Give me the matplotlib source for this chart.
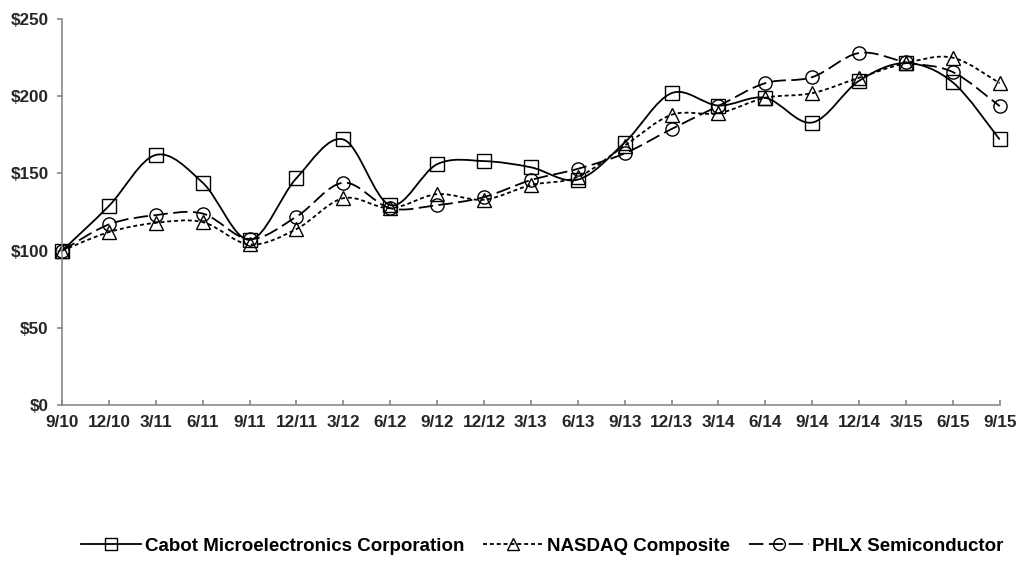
import matplotlib.pyplot as plt
from matplotlib.path import Path
from matplotlib.patches import PathPatch
from matplotlib.lines import Line2D

plt.rcParams['font.family'] = ['Liberation Sans', 'DejaVu Sans']
plt.rcParams['font.weight'] = 'bold'

# quarter labels
quarters = ['9/10', '12/10', '3/11', '6/11', '9/11', '12/11', '3/12', '6/12', '9/12', '12/12',
            '3/13', '6/13', '9/13', '12/13', '3/14', '6/14', '9/14', '12/14', '3/15', '6/15', '9/15']

# cumulative total return values
cabot = [100, 129, 162, 144, 107, 147, 172, 129.5, 156, 158, 154, 146, 170, 202, 194, 199, 183, 210, 221.5, 209, 172]
nasdaq = [100, 112, 118, 118.5, 104, 114, 134, 127.5, 136.6, 133, 142.5, 147.7, 168, 188, 189, 199, 202, 212, 221.5, 225, 208.5]
phlx = [100, 117, 123, 124, 107.5, 122, 144, 127.5, 129.5, 134.7, 145.7, 153, 163, 178.8, 193.7, 208.5, 212.4, 228, 222, 215.7, 193.6]

yticks = [0, 50, 100, 150, 200, 250]


def smooth_path(xs, ys):
    # bezier segments through the points, like a spreadsheet "smoothed line"
    pts = list(zip(xs, ys))
    n = len(pts)
    verts = [pts[0]]
    codes = [Path.MOVETO]
    for i in range(n - 1):
        p0 = pts[i - 1] if i > 0 else pts[i]
        p1 = pts[i]
        p2 = pts[i + 1]
        p3 = pts[i + 2] if i + 2 < n else pts[i + 1]
        c1 = (p1[0] + (p2[0] - p0[0]) / 6, p1[1] + (p2[1] - p0[1]) / 6)
        c2 = (p2[0] - (p3[0] - p1[0]) / 6, p2[1] - (p3[1] - p1[1]) / 6)
        verts += [c1, c2, p2]
        codes += [Path.CURVE4] * 3
    return Path(verts, codes)


fig = plt.figure(figsize=(10.18, 5.61), dpi=100)
ax = fig.add_axes([0.061, 0.278, 0.921, 0.688])

x = list(range(len(quarters)))
series = [
    (cabot, 's', '-', 'Cabot Microelectronics Corporation'),
    (nasdaq, '^', (0, (2.2, 1.6)), 'NASDAQ Composite'),
    (phlx, 'o', (0, (8, 3)), 'PHLX Semiconductor'),
]
handles = []
for vals, mk, ls, name in series:
    ax.add_patch(PathPatch(smooth_path(x, vals), facecolor='none', edgecolor='black',
                           lw=1.3, linestyle=ls, clip_on=False))
    ax.plot(x, vals, linestyle='none', marker=mk, markersize=9.5, markerfacecolor='none',
            markeredgecolor='black', markeredgewidth=1.0, clip_on=False)
    handles.append(Line2D([], [], color='black', lw=1.3, linestyle=ls, marker=mk,
                          markersize=8.5, markerfacecolor='none', markeredgewidth=1.0, label=name))

ax.set_xlim(0, len(quarters) - 1)
ax.set_ylim(0, 250)
ax.set_xticks(x)
ax.set_xticklabels(quarters)
ax.set_yticks(yticks)
ax.set_yticklabels(['$%d' % v for v in yticks])
ax.tick_params(axis='both', colors='#808080', labelcolor='#262626', labelsize=12.3, width=1.1)
ax.tick_params(axis='x', direction='in', length=3.5, pad=7)
ax.tick_params(axis='y', direction='out', length=3.6, pad=6)
for s in ['top', 'right']:
    ax.spines[s].set_visible(False)
for s in ['left', 'bottom']:
    ax.spines[s].set_color('#808080')
    ax.spines[s].set_linewidth(1.1)
for lab in ax.get_xticklabels() + ax.get_yticklabels():
    lab.set_fontweight('bold')

fig.legend(handles=handles, loc='center', bbox_to_anchor=(0.533, 0.026), ncol=3, frameon=False,
           fontsize=13.5, handlelength=3.2, columnspacing=1.0, handletextpad=0.2)

plt.savefig('out.png')
